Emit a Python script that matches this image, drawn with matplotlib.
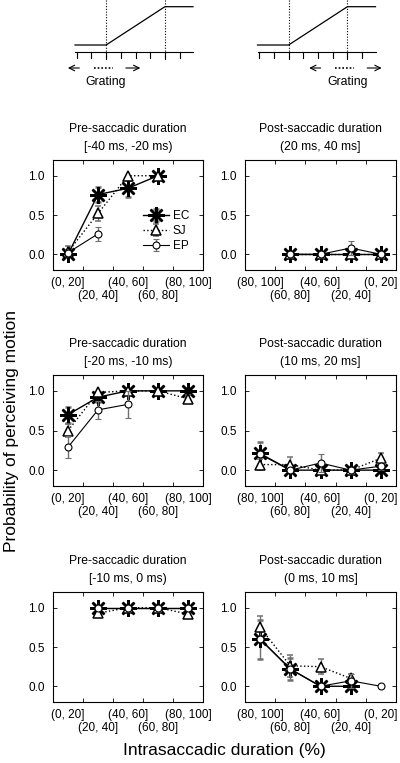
import numpy as np
import matplotlib.pyplot as plt

plt.rcParams['font.family'] = ['Liberation Sans', 'DejaVu Sans']

nan = np.nan

# categorias (intervalos de duracion intrasacadica)
pre_labels = ['(0, 20]', '(20, 40]', '(40, 60]', '(60, 80]', '(80, 100]']
post_labels = ['(80, 100]', '(60, 80]', '(40, 60]', '(20, 40]', '(0, 20]']

titles = ['Pre-saccadic duration\n[-40 ms, -20 ms)',
          'Post-saccadic duration\n(20 ms, 40 ms]',
          'Pre-saccadic duration\n[-20 ms, -10 ms)',
          'Post-saccadic duration\n(10 ms, 20 ms]',
          'Pre-saccadic duration\n[-10 ms, 0 ms)',
          'Post-saccadic duration\n(0 ms, 10 ms]']

# sujeto EC
ec_vals = [[0.0, 0.76, 0.84, 1.0, nan],
           [nan, 0.0, 0.0, 0.0, 0.0],
           [0.7, 0.92, 1.0, 1.0, 1.0],
           [0.21, 0.0, 0.0, 0.0, 0.0],
           [nan, 1.0, 1.0, 1.0, 1.0],
           [0.6, 0.22, 0.0, 0.0, nan]]
ec_err = [[0.0, 0.1, 0.11, 0.0, nan],
          [nan, 0.0, 0.0, 0.0, 0.0],
          [0.1, 0.06, 0.0, 0.0, 0.04],
          [0.15, 0.0, 0.0, 0.0, 0.0],
          [nan, 0.0, 0.0, 0.0, 0.0],
          [0.25, 0.14, 0.0, 0.0, nan]]

# sujeto SJ
sj_vals = [[0.03, 0.52, 1.0, 1.0, nan],
           [nan, 0.0, 0.0, 0.0, 0.0],
           [0.5, 0.98, 1.0, 1.0, 0.9],
           [0.07, 0.07, 0.0, 0.0, 0.15],
           [nan, 0.93, 1.0, 1.0, 0.92],
           [0.75, 0.26, 0.25, 0.1, nan]]
sj_err = [[0.07, 0.1, 0.0, 0.0, nan],
          [nan, 0.0, 0.0, 0.0, 0.0],
          [0.08, 0.0, 0.0, 0.0, 0.05],
          [0.07, 0.09, 0.0, 0.0, 0.06],
          [nan, 0.04, 0.0, 0.0, 0.05],
          [0.15, 0.14, 0.1, 0.06, nan]]

# sujeto EP
ep_vals = [[0.02, 0.26, nan, nan, nan],
           [nan, 0.0, 0.0, 0.08, 0.0],
           [0.29, 0.76, 0.83, nan, nan],
           [0.2, 0.0, 0.09, 0.0, 0.05],
           [nan, 1.0, 1.0, 1.0, 1.0],
           [0.6, 0.22, 0.0, 0.07, 0.0]]
ep_err = [[0.03, 0.09, nan, nan, nan],
          [nan, 0.0, 0.0, 0.09, 0.0],
          [0.14, 0.11, 0.17, nan, nan],
          [0.0, 0.0, 0.11, 0.0, 0.05],
          [nan, 0.0, 0.0, 0.0, 0.0],
          [0.0, 0.0, 0.0, 0.09, 0.0]]

W, H = 400, 763
fig = plt.figure(figsize=(W / 100, H / 100), dpi=100)

# posiciones de los paneles en pixeles (izq, der) y (arriba, abajo)
cols = [(53, 203), (245, 396)]
rows = [(160, 270), (375, 486), (592, 702)]

pos = np.arange(1, 6)
err_color = '#707070'

for i in range(6):
    r, c = divmod(i, 2)
    x0, x1 = cols[c]
    y0, y1 = rows[r]
    ax = fig.add_axes([x0 / W, 1 - y1 / H, (x1 - x0) / W, (y1 - y0) / H])

    ax.errorbar(pos, ec_vals[i], yerr=ec_err[i], color='black', ecolor=err_color,
                elinewidth=1, capsize=2.5, lw=1, ls='-', marker=(8, 2, 0),
                ms=12, mew=1.8, label='EC', zorder=2)
    ax.errorbar(pos, sj_vals[i], yerr=sj_err[i], color='black', ecolor=err_color,
                elinewidth=1, capsize=2.5, lw=1, ls=':', marker='^',
                ms=7, mfc='white', mew=1.1, label='SJ', zorder=3)
    ax.errorbar(pos, ep_vals[i], yerr=ep_err[i], color='black', ecolor=err_color,
                elinewidth=1, capsize=2.5, lw=0.8, ls='-', marker='o',
                ms=5, mfc='white', mew=0.8, label='EP', zorder=4)

    ax.set_xlim(0.5, 5.5)
    ax.set_ylim(-0.2, 1.2)
    ax.set_yticks([0, 0.5, 1.0])
    ax.set_yticklabels(['0.0', '0.5', '1.0'])
    labels = pre_labels if c == 0 else post_labels

    # etiquetas escalonadas en dos renglones
    ax.set_xticks(pos[::2])
    ax.set_xticklabels(labels[::2])
    sec = ax.secondary_xaxis('bottom')
    sec.set_xticks(pos[1::2])
    sec.set_xticklabels(labels[1::2])
    sec.tick_params(length=0, pad=14.5, labelsize=8.5)
    sec.spines['bottom'].set_visible(False)

    ax.set_xticks(pos[:-1] + 0.5, minor=True)
    ax.tick_params(axis='x', which='major', length=0, pad=5, labelsize=8.5)
    ax.tick_params(axis='x', which='minor', direction='in', length=3,
                   top=True, bottom=True, width=0.6)
    ax.tick_params(axis='y', direction='in', length=3, right=True, width=0.6,
                   pad=6, labelsize=8.5)
    for s in ax.spines.values():
        s.set_linewidth(0.8)
    ax.set_title(titles[i], fontsize=8.7, linespacing=1.75, pad=7)

    if i == 0:
        ax.legend(loc='lower right', frameon=False, fontsize=8.5, handlelength=2.2,
                  handletextpad=0.3, labelspacing=0.25, borderaxespad=0.4,
                  bbox_to_anchor=(0.97, 0.08))

fig.text(12 / W, 1 - 431 / H, 'Probability of perceiving motion', rotation=90,
         ha='center', va='center', fontsize=12.5)
fig.text(224 / W, 1 - 750 / H, 'Intrasaccadic duration (%)',
         ha='center', va='center', fontsize=12.5)

# esquemas de la parte superior (en pixeles)
sk = fig.add_axes([0, 0, 1, 1])
sk.set_xlim(0, W)
sk.set_ylim(H, 0)
sk.axis('off')

def esquema(x_start, grating_idx):
    base_y = 52
    step = 14.7
    ticks = x_start + 1.7 + step * np.arange(8)
    x_end = x_start + 118
    sk.plot([x_start, x_end], [base_y, base_y], color='black', lw=0.8)
    for t in ticks:
        sk.plot([t, t], [base_y, base_y + 6], color='black', lw=0.8)
    a, b = ticks[2], ticks[6]
    for t in (a, b):
        sk.plot([t, t], [0, base_y + 9], color='black', lw=0.8, ls=(0, (1, 1.5)))
    sk.plot([x_start, a, b, x_end], [45, 45, 6.7, 6.7], color='black', lw=0.9)
    gx = ticks[grating_idx]
    sk.annotate('', xy=(gx - 41, 68), xytext=(gx - 24, 68),
                arrowprops=dict(arrowstyle='->', lw=0.8, color='black'))
    sk.annotate('', xy=(gx + 37, 68), xytext=(gx + 17, 68),
                arrowprops=dict(arrowstyle='->', lw=0.8, color='black'))
    sk.plot([gx - 12, gx + 7], [68, 68], color='black', lw=1.2, ls=(0, (1, 1.2)))
    sk.text(gx, 82, 'Grating', ha='center', va='center', fontsize=8.8)

esquema(75, 2)
esquema(257.5, 6)

fig.savefig('out.png', dpi=100)
